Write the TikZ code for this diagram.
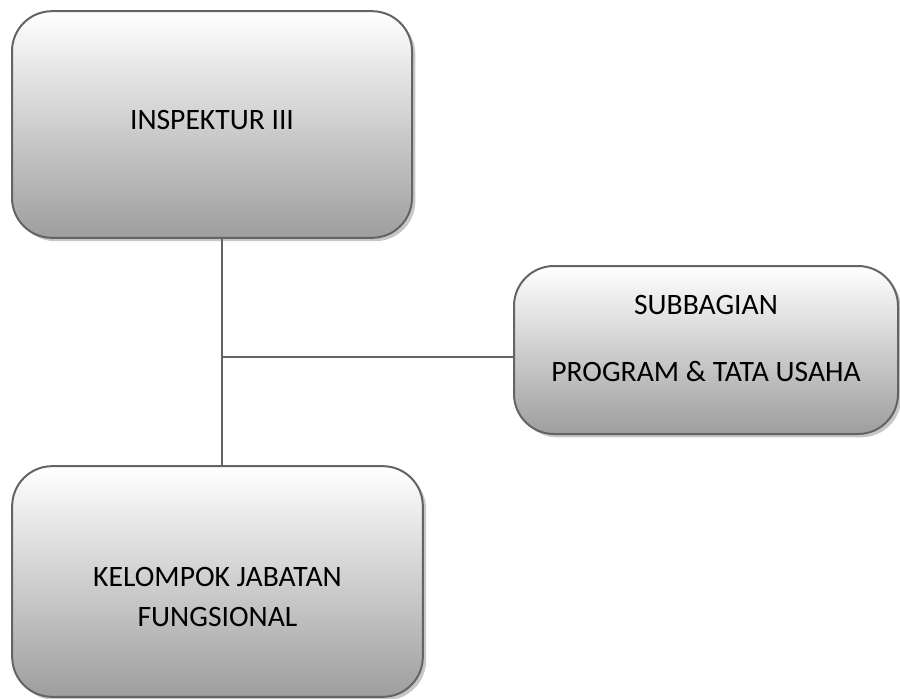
\documentclass[tikz,border=0pt]{standalone}
\usepackage{fontspec}
\setmainfont{Carlito}
\usetikzlibrary{shadows,positioning,calc}
\definecolor{boxline}{RGB}{100,100,100}
\definecolor{boxdark}{RGB}{158,158,158}

\begin{document}
\begin{tikzpicture}[x=0.75pt, y=-0.75pt,
    unit/.style={draw=boxline, line width=1.5pt, rounded corners=30pt,
      top color=white, bottom color=boxdark, align=center,
      font=\fontsize{22.2pt}{30pt}\selectfont,
      drop shadow={shadow xshift=2.5pt, shadow yshift=-2.5pt, fill=black!22, opacity=1}},
    link/.style={draw=boxline, line width=1.3pt}]

  \useasboundingbox (0,0) rectangle (900,699);

  % Boxes of the chart
  \node[unit, minimum width=300pt, minimum height=170pt, text height=20pt, text depth=12pt]
    (insp) at (212,124.5) {INSPEKTUR III};
  \node[unit, minimum width=288pt, minimum height=126pt, text height=50pt, text depth=3.5pt]
    (sub) at (706,350) {SUBBAGIAN\\[20pt]PROGRAM \& TATA USAHA};
  \node[unit, minimum width=308pt, minimum height=173pt, text height=67pt, text depth=0pt]
    (kjf) at (217.5,581.5) {KELOMPOK JABATAN\\FUNGSIONAL};

  % Lines between the boxes
  \coordinate (jn) at (222,357);
  \path[link]
    (jn |- insp.south) -- (jn |- kjf.north)
    (jn) -- (jn -| sub.west);

\end{tikzpicture}
\end{document}
